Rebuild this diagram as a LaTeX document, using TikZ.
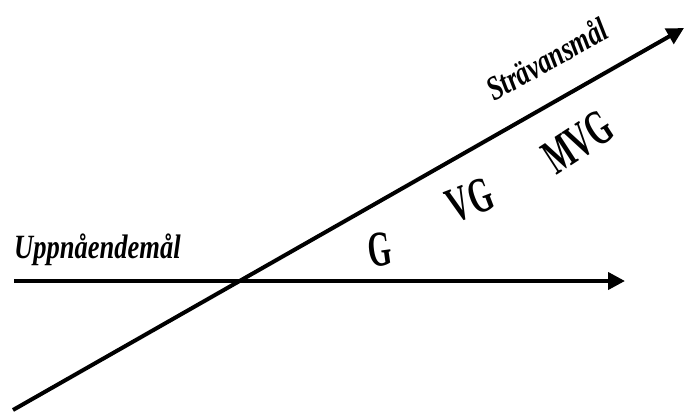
\documentclass[tikz,border=0pt]{standalone}
\usepackage{fontspec}
\setmainfont{Liberation Serif}
\usetikzlibrary{arrows.meta}

\begin{document}
\begin{tikzpicture}[x=1pt, y=-1pt,
	axis/.style={line width=4pt, -{Triangle[length=17pt, width=17pt]}},
	goal/.style={font=\fontsize{34}{34}\selectfont\bfseries\itshape, inner sep=0pt},
	grade/.style={font=\fontsize{50}{50}\selectfont\bfseries, inner sep=0pt}]
	\useasboundingbox (0,0) rectangle (684,412);
	% the two axes
	\coordinate (hstart) at (14,281);
	\coordinate (hend) at (625,281);
	\coordinate (dstart) at (13,410);
	\coordinate (dend) at (684,28);
	\draw[axis] (hstart) -- (hend);
	\draw[axis] (dstart) -- (dend);
	% labels
	\node[goal, anchor=base west] (uppn) at (14,258) {\scalebox{0.78}[1]{Uppnåendemål}};
	\node[goal, anchor=base west, rotate=29] (strav) at (494,102) {\scalebox{0.76}[1]{Strävansmål}};
	\node[grade, rotate=8] (g) at (380,250) {\scalebox{0.6}[1]{G}};
	\node[grade, rotate=21] (vg) at (470,200) {\scalebox{0.6}[1]{VG}};
	\node[grade, rotate=33] (mvg) at (578,142) {\scalebox{0.6}[1]{MVG}};
\end{tikzpicture}
\end{document}
